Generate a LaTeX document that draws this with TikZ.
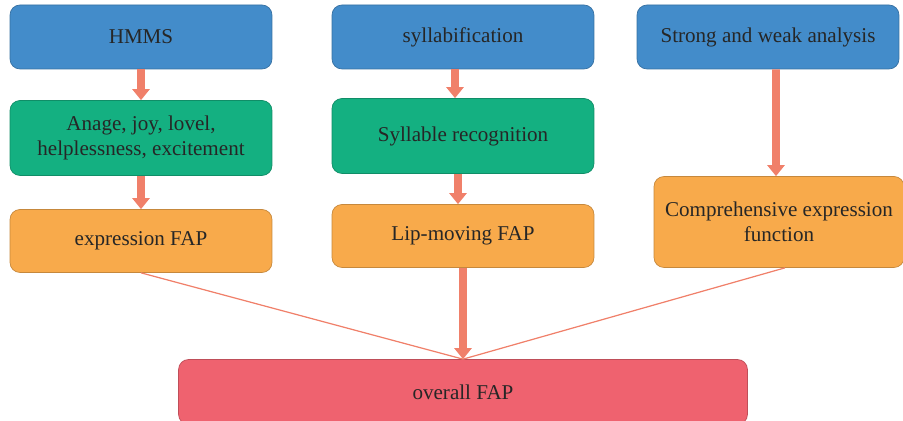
\documentclass[tikz,border=0pt]{standalone}
\usepackage{fontspec}
\setmainfont{Liberation Serif}
\usetikzlibrary{arrows.meta}

\definecolor{boxblue}{HTML}{438CCA}
\definecolor{boxgreen}{HTML}{14B081}
\definecolor{boxorange}{HTML}{F8AA4B}
\definecolor{boxred}{HTML}{EF626F}
\definecolor{arrowred}{HTML}{F0806A}

\begin{document}
\begin{tikzpicture} [x=0.02cm,y=-0.02cm,
	font=\fontsize{12}{14}\selectfont,
	object input/.style={
		rectangle,draw=boxblue!80!black,fill=boxblue,
		rounded corners=2mm,text=black!85,
		minimum width=5.24cm,minimum height=1.28cm},
	object mid/.style={
		rectangle,draw=boxgreen!80!black,fill=boxgreen,
		rounded corners=2mm,text=black!85,align=center,
		minimum width=5.24cm,minimum height=1.5cm},
	object fap/.style={
		rectangle,draw=boxorange!80!black,fill=boxorange,
		rounded corners=2mm,text=black!85,align=center,
		minimum width=5.24cm,minimum height=1.26cm},
	otpt/.style={
		rectangle,draw=boxred!80!black,fill=boxred,
		rounded corners=2mm,text=black!85,
		minimum width=11.38cm,minimum height=1.3cm},
	tip/.style={
		-{Triangle[width=0.34cm,length=0.22cm]},
		draw=arrowred,line width=4.5pt},
	thin tip/.style={
		draw=arrowred,line width=0.7pt}]
\useasboundingbox (0,0) rectangle (903,421);
\node[object input] (hmms) 		at (141,37) {HMMS};
\node[object input] (syllabification) 	at (463,37) {syllabification};
\node[object input] (strong weak) 	at (768,37) {Strong and weak analysis};
\node[object mid] (emotions) 		at (141,138) {Anage, joy, lovel,\\helplessness, excitement};
\node[object mid] (syllable) 		at (463,136) {Syllable recognition};
\node[object fap] (expression fap) 	at (141,241) {expression FAP};
\node[object fap] (lip fap) 		at (463,236) {Lip-moving FAP};
\node[object fap,minimum width=5.0cm,minimum height=1.82cm]
	(comprehensive) 		at (779,222) {Comprehensive expression\\function};
\node[otpt] (overall) 			at (463,392) {overall FAP};
\draw[tip] (hmms.south) -- (emotions.north);
\draw[tip] (emotions.south) -- (expression fap.north);
\draw[tip] ([xshift=-0.16cm]syllabification.south) -- ([xshift=-0.16cm]syllable.north);
\draw[tip] ([xshift=-0.1cm]syllable.south) -- ([xshift=-0.1cm]lip fap.north);
\draw[tip] ([xshift=0.16cm]strong weak.south) -- ([xshift=-0.06cm]comprehensive.north);
\draw[tip] (lip fap.south) -- (overall.north);
\draw[thin tip] (expression fap.south) -- (overall.north);
\draw[thin tip] ([xshift=0.12cm]comprehensive.south) -- (overall.north);
\end{tikzpicture}
\end{document}
